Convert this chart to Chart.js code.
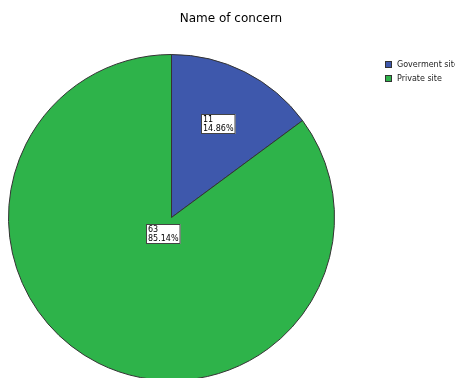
<!DOCTYPE html>
<html lang="en">
<head>
    <meta charset="UTF-8">
    <title>Name of concern</title>
    <script src="https://cdn.jsdelivr.net/npm/chart.js"></script>
    <style>
        html, body { margin: 0; padding: 0; background: #fff; overflow: hidden; }
        #wrap { width: 455px; height: 378px; overflow: hidden; }
    </style>
</head>
<body>
    <div id="wrap"><canvas id="pieChart" width="455" height="400"></canvas></div>
    <script>
        // chart data
        const categories = ['Goverment site', 'Private site'];
        const counts = [11, 63];
        const sliceColors = ['#3e58ac', '#2eb34a'];

        const total = counts.reduce((a, b) => a + b, 0);

        // title, legend and the white value boxes
        const sketchPlugin = {
            id: 'sketch',
            afterDraw(chart) {
                const ctx = chart.ctx;
                ctx.save();

                // title
                ctx.fillStyle = '#000';
                ctx.font = '12px "DejaVu Sans"';
                ctx.textAlign = 'center';
                ctx.textBaseline = 'middle';
                ctx.fillText('Name of concern', 231, 19);

                // legend
                ctx.textAlign = 'left';
                ctx.font = '8px "DejaVu Sans"';
                categories.forEach((name, i) => {
                    const y = 61 + i * 14;
                    ctx.fillStyle = sliceColors[i];
                    ctx.fillRect(385, y, 7, 7);
                    ctx.strokeStyle = '#333';
                    ctx.lineWidth = 1;
                    ctx.strokeRect(385.5, y + 0.5, 6, 6);
                    ctx.fillStyle = '#222';
                    ctx.fillText(name, 397, y + 4);
                });

                // value labels
                const meta = chart.getDatasetMeta(0);
                const spots = [0.64, 0.115];
                meta.data.forEach((arc, i) => {
                    const mid = (arc.startAngle + arc.endAngle) / 2;
                    const r = arc.outerRadius * spots[i];
                    const cx = arc.x + Math.cos(mid) * r;
                    const cy = arc.y + Math.sin(mid) * r;
                    const lines = [String(counts[i]), (counts[i] / total * 100).toFixed(2) + '%'];
                    ctx.font = '8px "DejaVu Sans"';
                    const w = Math.max(...lines.map(t => ctx.measureText(t).width)) + 4;
                    const h = 20;
                    const x0 = Math.round(cx - w / 2);
                    const y0 = Math.round(cy - h / 2);
                    ctx.fillStyle = '#fff';
                    ctx.fillRect(x0, y0, w, h);
                    ctx.strokeStyle = '#444';
                    ctx.strokeRect(x0 + 0.5, y0 + 0.5, w - 1, h - 1);
                    ctx.fillStyle = '#000';
                    ctx.textAlign = 'left';
                    ctx.fillText(lines[0], x0 + 2, y0 + 5.5);
                    ctx.fillText(lines[1], x0 + 2, y0 + 14.5);
                });

                ctx.restore();
            }
        };

        new Chart(document.getElementById('pieChart'), {
            type: 'pie',
            data: {
                labels: categories,
                datasets: [{
                    data: counts,
                    backgroundColor: sliceColors,
                    borderColor: '#333',
                    borderWidth: 1
                }]
            },
            options: {
                responsive: false,
                animation: false,
                layout: { padding: { left: 8, right: 120, top: 54, bottom: 19 } },
                plugins: {
                    legend: { display: false },
                    title: { display: false },
                    tooltip: { enabled: false }
                }
            },
            plugins: [sketchPlugin]
        });
    </script>
</body>
</html>
